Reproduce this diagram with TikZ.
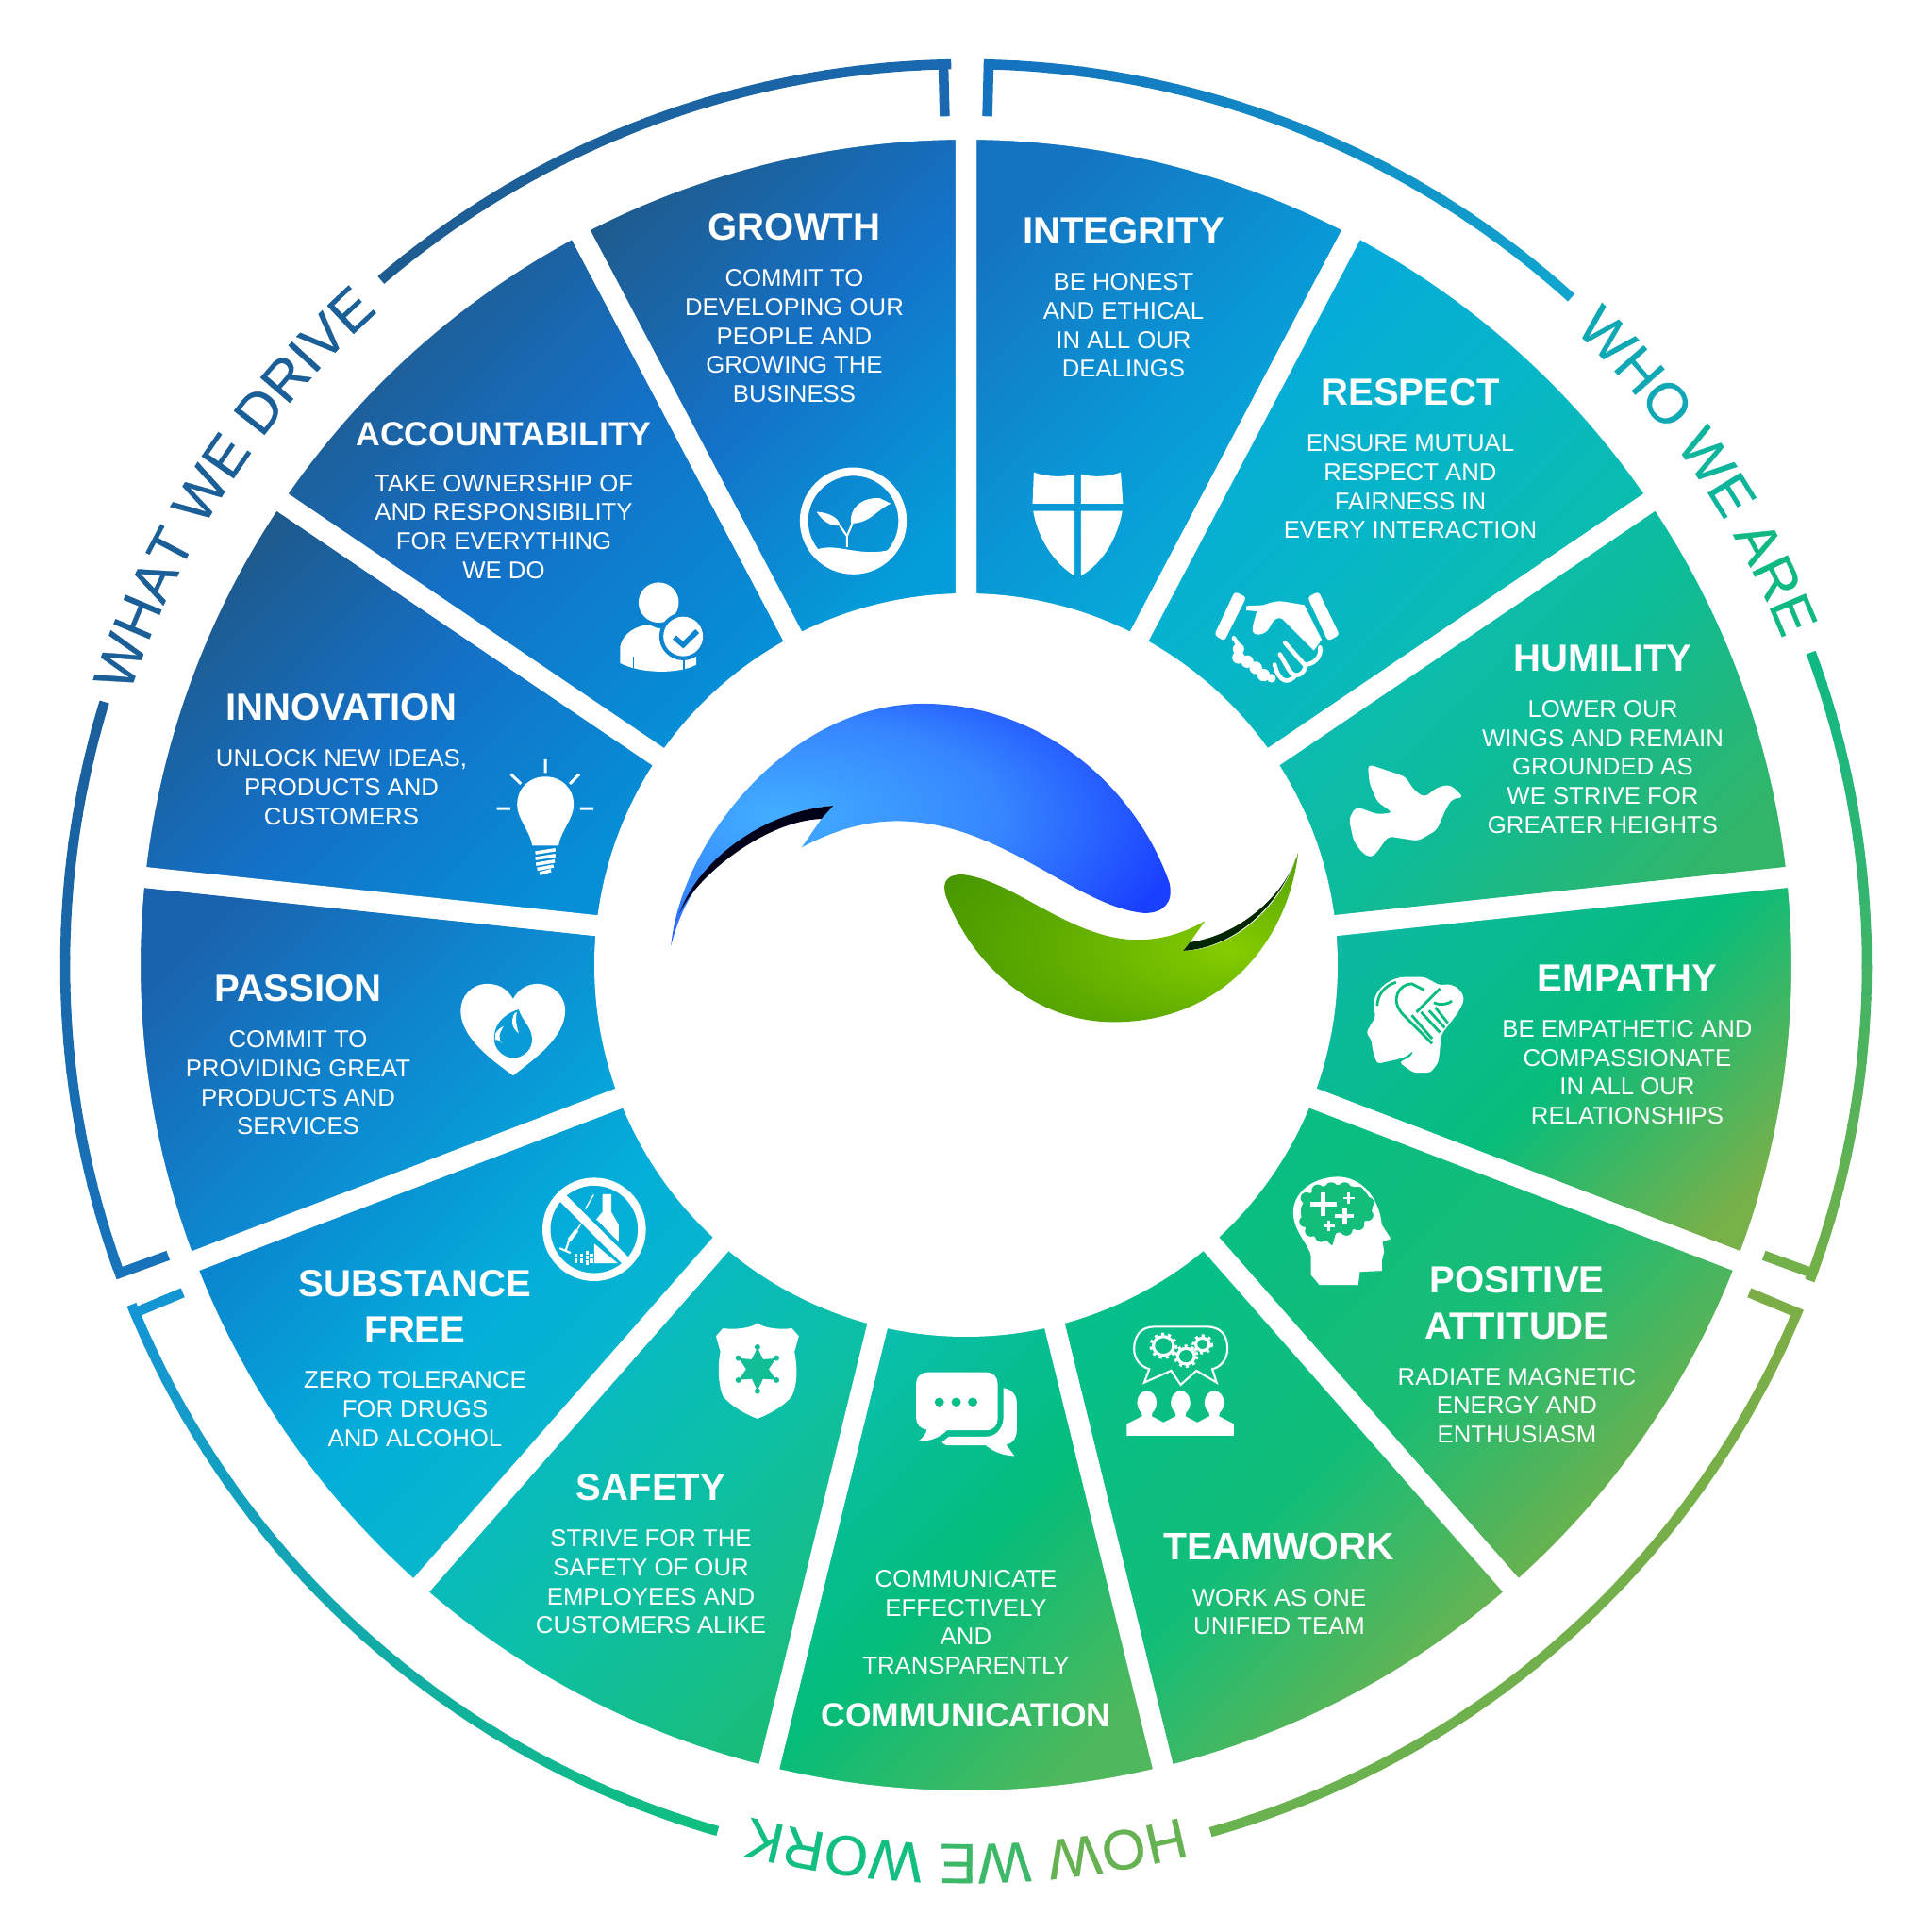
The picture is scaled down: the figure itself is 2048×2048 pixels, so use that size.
\documentclass[tikz,border=0pt]{standalone}
\usepackage{fontspec}
\setmainfont{Liberation Sans}
\newfontfamily\ringfam[FakeBold=0.5]{Liberation Sans}
\usetikzlibrary{positioning,decorations.text}

\definecolor{integrity1}{HTML}{1574C2}\definecolor{integrity2}{HTML}{0A96D6}\definecolor{integrity3}{HTML}{04B4D8}
\definecolor{respect1}{HTML}{06A6E0}\definecolor{respect2}{HTML}{07B6C8}\definecolor{respect3}{HTML}{0CBFA0}
\definecolor{humility1}{HTML}{0DBBC0}\definecolor{humility2}{HTML}{0CBC9A}\definecolor{humility3}{HTML}{32B568}
\definecolor{empathy1}{HTML}{0CB9A0}\definecolor{empathy2}{HTML}{06BD7C}\definecolor{empathy3}{HTML}{78B04A}
\definecolor{positive1}{HTML}{08BE82}\definecolor{positive2}{HTML}{1ABC74}\definecolor{positive3}{HTML}{80AE45}
\definecolor{teamwork1}{HTML}{06BF8A}\definecolor{teamwork2}{HTML}{12BD78}\definecolor{teamwork3}{HTML}{74B24C}
\definecolor{communication1}{HTML}{0ABFAE}\definecolor{communication2}{HTML}{04BD7A}\definecolor{communication3}{HTML}{50B85C}
\definecolor{safety1}{HTML}{06B2D6}\definecolor{safety2}{HTML}{0BBFAA}\definecolor{safety3}{HTML}{1ABD78}
\definecolor{substance1}{HTML}{0B80CE}\definecolor{substance2}{HTML}{04AEDA}\definecolor{substance3}{HTML}{0ABEC0}
\definecolor{passion1}{HTML}{1B62AE}\definecolor{passion2}{HTML}{0E86D0}\definecolor{passion3}{HTML}{04ACDC}
\definecolor{innovation1}{HTML}{1F5888}\definecolor{innovation2}{HTML}{1470C6}\definecolor{innovation3}{HTML}{068ED6}
\definecolor{accountability1}{HTML}{21598A}\definecolor{accountability2}{HTML}{1470C6}\definecolor{accountability3}{HTML}{068ED6}
\definecolor{growth1}{HTML}{1E5C90}\definecolor{growth2}{HTML}{1472C8}\definecolor{growth3}{HTML}{049CDA}

\definecolor{logoblueA}{HTML}{42AEFF}\definecolor{logoblueB}{HTML}{3685FF}\definecolor{logoblueC}{HTML}{1A40FF}
\definecolor{logogreenA}{HTML}{86CC00}\definecolor{logogreenB}{HTML}{5AA800}\definecolor{logogreenC}{HTML}{3A8A00}
\pgfdeclareradialshading{logoblue}{\pgfpoint{-15bp}{2bp}}{color(0bp)=(logoblueA); color(20bp)=(logoblueB); color(36bp)=(logoblueC); color(100bp)=(logoblueC)}
\pgfdeclareradialshading{logogreen}{\pgfpoint{16bp}{-4bp}}{color(0bp)=(logogreenA); color(25bp)=(logogreenB); color(50bp)=(logogreenC); color(100bp)=(logogreenC)}

% draws one coloured piece of the outer ring, fading from #3 to #4
\newcommand{\ringarc}[4]{
  \foreach \k in {0,...,19}{
    \pgfmathsetmacro{\angA}{#1+\k*(#2-#1)/20}
    \pgfmathsetmacro{\angB}{#1+(\k+1.1)*(#2-#1)/20}
    \pgfmathtruncatemacro{\pct}{\k*100/19}
    \draw[ring,color=#4!\pct!#3] (\angA:955) arc[start angle=\angA,end angle=\angB,radius=955];
  }
}
\newcommand{\ringfont}{\ringfam\fontsize{17}{18}\selectfont}

\begin{document}
\begin{tikzpicture}
  [x=0.01cm,y=0.01cm,node distance=8.3pt,
  segment/.style={top color=#11,bottom color=#13,middle color=#12,shading angle=45,draw=white,line width=6.26pt},
  head/.style={text=white,inner sep=0pt,align=center,font=\bfseries\fontsize{11.4}{13.8}\selectfont},
  smallhead/.style={head,font=\bfseries\fontsize{10.1}{12}\selectfont},
  txt/.style={text=white,inner sep=0pt,align=center,font=\fontsize{7.32}{8.73}\selectfont},
  ring/.style={line width=3pt,line cap=butt},
  ringtext/.style={decorate,decoration={text along path,text align=center,text={#1}}},
  crop/.style n args={3}{shift={(#1-1024,1023-#2)},x=#3,y=-.00333cm}]
  \useasboundingbox (-1024,-1025) rectangle (1024,1023);

  % the thirteen segments
  \foreach \seg/\angS/\angE in {integrity/90/62.2,respect/62.2/34.1,humility/34.1/6.1,empathy/6.1/-21,positive/-21/-48.7,teamwork/-48.7/-76.2,communication/-76.2/-103.8,safety/-103.8/-131.3,substance/-131.3/-159,passion/-159/-186.1,innovation/-186.1/-214.1,accountability/-214.1/-242.2,growth/-242.2/-270}{
    \path[segment=\seg] (\angS:886) arc[start angle=\angS,end angle=\angE,radius=886]
      -- (\angE:383) arc[start angle=\angE,end angle=\angS,radius=383] -- cycle;
  }

  % titles and their texts
  \node[head] (integrity) at (167,778) {INTEGRITY};
  \node[txt] (textintegrity)[below=of integrity]{BE HONEST\\AND ETHICAL\\IN ALL OUR\\DEALINGS};
  \node[head] (respect) at (471,607) {RESPECT};
  \node[txt] (textrespect)[below=of respect]{ENSURE MUTUAL\\RESPECT AND\\FAIRNESS IN\\EVERY INTERACTION};
  \node[head] (humility) at (675,325) {HUMILITY};
  \node[txt] (texthumility)[below=of humility]{LOWER OUR\\WINGS AND REMAIN\\GROUNDED AS\\WE STRIVE FOR\\GREATER HEIGHTS};
  \node[head] (empathy) at (701,-14) {EMPATHY};
  \node[txt] (textempathy)[below=of empathy]{BE EMPATHETIC AND\\COMPASSIONATE\\IN ALL OUR\\RELATIONSHIPS};
  \node[head] (positive) at (584,-358) {POSITIVE\\ATTITUDE};
  \node[txt] (textpositive)[below=of positive]{RADIATE MAGNETIC\\ENERGY AND\\ENTHUSIASM};
  \node[head,font=\bfseries\fontsize{11.6}{14}\selectfont] (teamwork) at (332,-616) {TEAMWORK};
  \node[txt] (textteamwork)[below=of teamwork]{WORK AS ONE\\UNIFIED TEAM};
  \node[smallhead] (communication) at (0,-795) {COMMUNICATION};
  \node[txt] (textcommunication)[above=of communication]{COMMUNICATE\\EFFECTIVELY\\AND\\TRANSPARENTLY};
  \node[head] (safety) at (-334,-554) {SAFETY};
  \node[txt] (textsafety)[below=of safety]{STRIVE FOR THE\\SAFETY OF OUR\\EMPLOYEES AND\\CUSTOMERS ALIKE};
  \node[head] (substance) at (-584,-362) {SUBSTANCE\\FREE};
  \node[txt] (textsubstance)[below=of substance]{ZERO TOLERANCE\\FOR DRUGS\\AND ALCOHOL};
  \node[head] (passion) at (-708,-25) {PASSION};
  \node[txt] (textpassion)[below=of passion]{COMMIT TO\\PROVIDING GREAT\\PRODUCTS AND\\SERVICES};
  \node[head] (innovation) at (-662,273) {INNOVATION};
  \node[txt] (textinnovation)[below=of innovation]{UNLOCK NEW IDEAS,\\PRODUCTS AND\\CUSTOMERS};
  \node[smallhead] (accountability) at (-490,563) {ACCOUNTABILITY};
  \node[txt] (textaccountability)[below=of accountability]{TAKE OWNERSHIP OF\\AND RESPONSIBILITY\\FOR EVERYTHING\\WE DO};
  \node[head] (growth) at (-182,782) {GROWTH};
  \node[txt] (textgrowth)[below=of growth]{COMMIT TO\\DEVELOPING OUR\\PEOPLE AND\\GROWING THE\\BUSINESS};

  % outer ring
  \definecolor{ringA}{HTML}{1472BE}\definecolor{ringB}{HTML}{10A4CE}
  \definecolor{ringC}{HTML}{10B884}\definecolor{ringD}{HTML}{72B04A}
  \definecolor{ringE}{HTML}{7CAE47}\definecolor{ringF}{HTML}{68B250}
  \definecolor{ringG}{HTML}{10BF80}\definecolor{ringH}{HTML}{1496D4}
  \definecolor{ringI}{HTML}{1873BB}\definecolor{ringJ}{HTML}{1B5F9B}
  \definecolor{ringK}{HTML}{1D5C90}\definecolor{ringL}{HTML}{1A69B0}
  \ringarc{88.86}{48}{ringA}{ringB}
  \ringarc{20.3}{-20.3}{ringC}{ringD}
  \ringarc{-22.4}{-74}{ringE}{ringF}
  \ringarc{-106}{-157.6}{ringG}{ringH}
  \ringarc{199.7}{163.2}{ringI}{ringJ}
  \ringarc{130.5}{91.14}{ringK}{ringL}
  \draw[ring,color=ringA] (88.56:960) -- (88.56:900);
  \draw[ring,color=ringD] (-20:960) -- (-20:900);
  \draw[ring,color=ringE] (-22.7:960) -- (-22.7:900);
  \draw[ring,color=ringH] (-157.3:960) -- (-157.3:900);
  \draw[ring,color=ringI] (200:960) -- (200:900);
  \draw[ring,color=ringL] (91.44:960) -- (91.44:900);

  \definecolor{whoA}{HTML}{10A8B4}\definecolor{whoB}{HTML}{0EB49C}\definecolor{whoC}{HTML}{10B884}
  \definecolor{howA}{HTML}{66B252}\definecolor{howB}{HTML}{3DB868}\definecolor{howC}{HTML}{12BE80}
  \definecolor{whatA}{HTML}{1B5F98}
  \path[ringtext={|\ringfont\color{whoA}|WHO ||%
    |\ringfont\color{whoB}|WE ||%
    |\ringfont\color{whoC}|ARE}] (52:932) arc[start angle=52,end angle=16,radius=932];
  \path[ringtext={|\ringfont\color{howA}|HOW ||%
    |\ringfont\color{howB}|WE ||%
    |\ringfont\color{howC}|WORK}] (-70:932) arc[start angle=-70,end angle=-110,radius=932];
  \path[ringtext={|\ringfont\color{whatA}|WHAT WE DRIVE}] (170:932) arc[start angle=170,end angle=124,radius=932];

  % logo
  \begin{scope}[crop={680}{720}{.00459cm}]
    \path[shading=logoblue] (68,850) .. controls (90,520) and (340,78) .. (650,78)
      .. controls (920,78) and (1140,340) .. (1218,650)
      .. controls (1228,710) and (1205,745) .. (1160,745)
      .. controls (1000,725) and (830,452) .. (590,452)
      .. controls (510,452) and (440,485) .. (370,535)
      -- (415,445) -- (442,403)
      .. controls (270,420) and (110,600) .. (68,850) -- cycle;
    \fill[black!90!blue] (442,403) .. controls (280,420) and (130,580) .. (88,745)
      .. controls (130,620) and (290,450) .. (415,445) -- cycle;
    \path[shading=logogreen] (1515,550) .. controls (1490,850) and (1330,1092) .. (1090,1092)
      .. controls (900,1092) and (760,900) .. (702,690)
      .. controls (692,645) and (705,622) .. (740,622)
      .. controls (860,640) and (990,830) .. (1145,830)
      .. controls (1205,830) and (1255,805) .. (1300,770)
      -- (1265,838) -- (1250,865)
      .. controls (1370,860) and (1480,720) .. (1515,550) -- cycle;
    \fill[black!85!green] (1265,838) .. controls (1380,815) and (1480,690) .. (1510,570)
      .. controls (1470,720) and (1370,855) .. (1250,865) -- cycle;
  \end{scope}

  % icons
  \begin{scope}[crop={1020}{460}{.00333cm},white]
    % shield
    \fill (228,122) .. controls (260,135) and (320,140) .. (358,128) -- (358,222) -- (224,222) -- cycle;
    \fill (378,128) .. controls (420,140) and (470,135) .. (505,122) -- (512,222) -- (378,222) -- cycle;
    \fill (226,245) -- (358,245) -- (358,452) .. controls (290,410) and (240,330) .. (226,245) -- cycle;
    \fill (378,245) -- (510,245) .. controls (495,330) and (450,410) .. (378,452) -- cycle;
    % handshake
    \fill[rounded corners=1pt] (868,502) -- (905,520) -- (835,660) -- (803,640) -- cycle;
    \fill[rounded corners=1pt] (1135,502) -- (1100,520) -- (1165,660) -- (1202,640) -- cycle;
    \fill (905,548) -- (960,545) .. controls (985,535) and (1010,530) .. (1030,535) -- (1090,545) -- (1145,655) -- (1120,690)
      -- (1020,590) .. controls (1000,580) and (990,595) .. (980,615)
      .. controls (965,645) and (925,645) .. (925,625) .. controls (925,600) and (935,585) .. (938,565) -- (905,562) -- cycle;
    \draw[line width=1.3pt,line cap=round] (1140,680) .. controls (1145,710) and (1120,735) .. (1090,735) -- (1028,665);
    \draw[line width=1.3pt,line cap=round] (1095,735) .. controls (1090,765) and (1060,785) .. (1040,750) -- (1012,702);
    \draw[line width=1.3pt,line cap=round] (1060,770) .. controls (1040,795) and (1010,795) .. (995,735);
    \draw[line width=1.3pt,line cap=round] (865,650) -- (885,680);
    \foreach \px/\py/\pr in {880/685/18,880/712/20,908/725/20,935/745/20,960/768/20,985/778/14}
      \fill (\px,\py) circle[radius=\pr];
  \end{scope}

  \begin{scope}[crop={620}{460}{.00333cm},white]
    % plant in a ring
    \draw[line width=2.5pt] (855,277) circle[radius=157];
    \fill (740,368) .. controls (800,345) and (880,395) .. (975,368) .. controls (930,425) and (890,445) .. (855,445) .. controls (810,445) and (770,420) .. (740,368) -- cycle;
    \fill (848,285) .. controls (840,240) and (880,200) .. (940,205) -- (975,222) .. controls (930,240) and (910,285) .. (848,285) -- cycle;
    \fill (738,248) .. controls (780,250) and (812,270) .. (812,292) .. controls (780,295) and (755,275) .. (738,248) -- cycle;
    \draw[line width=.6pt] (835,360) -- (835,325) -- (812,292) (835,325) -- (852,285);
    % person with a check mark
    \fill (235,537) circle[radius=64];
    \fill (112,730) -- (112,680) .. controls (120,630) and (170,610) .. (205,607) .. controls (235,625) and (260,625) .. (290,607)
      -- (355,660) -- (355,735) .. controls (300,765) and (180,765) .. (112,730) -- cycle;
    \fill[color=growth2!55!growth3] (313,645) circle[radius=76];
    \fill (313,645) circle[radius=63];
    \draw[color=growth2!55!growth3,line width=1.6pt] (285,648) -- (313,672) -- (358,628);
    \draw[color=growth2!55!growth3,line width=.4pt] (155,710) -- (155,752) (315,722) -- (315,752);
  \end{scope}

  \begin{scope}[crop={470}{780}{.00333cm},white]
    % bulb
    \draw[line width=.85pt] (325,75) -- (325,118) (215,122) -- (247,153) (433,122) -- (403,153) (170,232) -- (213,232) (435,232) -- (478,232);
    \fill (235,220) .. controls (235,265) and (275,300) .. (283,350) -- (367,350) .. controls (375,300) and (415,265) .. (415,220)
      .. controls (415,165) and (375,130) .. (325,130) .. controls (275,130) and (235,165) .. (235,220) -- cycle;
    \foreach \ly/\lw in {368/32,386/32,404/30,420/26,434/18}
      \draw[line width=1pt] (325-\lw,\ly+5) -- (325+\lw,\ly-5);
    % heart with a flame
    \fill (222,838) .. controls (200,800) and (170,790) .. (140,790) .. controls (90,790) and (55,830) .. (55,875)
      .. controls (55,960) and (150,1030) .. (222,1082) .. controls (290,1030) and (388,960) .. (388,875)
      .. controls (388,825) and (345,790) .. (300,790) .. controls (270,790) and (240,805) .. (222,838) -- cycle;
    \fill[color=passion2!45!passion3] (240,872) .. controls (190,885) and (150,930) .. (165,985) .. controls (180,1020) and (215,1030) .. (235,1025)
      .. controls (270,1015) and (290,985) .. (280,950) .. controls (275,925) and (250,905) .. (240,872) -- cycle;
    \fill (192,925) .. controls (180,945) and (170,965) .. (190,982) .. controls (180,970) and (160,960) .. (165,975) -- (165,950) .. controls (170,940) and (180,930) .. (192,925) -- cycle;
    \fill (226,885) .. controls (214,910) and (218,930) .. (240,948) .. controls (234,925) and (228,908) .. (234,880) -- cycle;
  \end{scope}

  \begin{scope}[crop={1380}{780}{.00333cm},white]
    % dove
    \fill[rounded corners=1.5pt] (210,90) -- (330,130) -- (355,170) -- (390,197) -- (430,165) -- (470,155) -- (495,175) -- (515,197) -- (480,200)
      -- (460,230) -- (430,300) -- (370,335) -- (275,320) -- (240,370) -- (220,390) -- (190,370) -- (165,335) -- (150,265) -- (172,225)
      -- (240,250) -- (290,245) -- (240,210) -- (215,150) -- cycle;
    % head with hands
    \fill[rounded corners=1pt] (205,945) -- (235,895) -- (228,860) .. controls (235,800) and (290,768) .. (340,768) -- (390,768) -- (440,795)
      .. controls (490,785) and (520,820) .. (512,855) -- (495,885) -- (445,950) -- (435,1040) -- (410,1073) -- (355,1073) -- (310,1040)
      -- (350,1020) -- (355,1000) .. controls (330,1030) and (280,1035) .. (240,1045) -- (225,1000) -- (222,970) -- cycle;
    \draw[color=empathy2,line width=.8pt] (240,860) .. controls (240,825) and (265,795) .. (300,785);
    \draw[color=empathy2,line width=.8pt] (415,980) -- (320,885) .. controls (280,840) and (310,790) .. (350,790) -- (390,810);
    \draw[color=empathy2,line width=.8pt] (365,880) -- (440,805) (420,850) .. controls (440,860) and (465,855) .. (478,845);
    \draw[color=empathy2,line width=.8pt] (350,890) -- (415,965) (380,880) -- (440,945) (405,875) -- (455,930) (425,865) -- (465,915);
  \end{scope}

  \begin{scope}[crop={920}{1220}{.00357cm},white]
    % head with brain
    \fill (1315,395) -- (1340,427) -- (1455,427) -- (1460,385) -- (1525,382) -- (1525,350) -- (1532,320) -- (1527,290) -- (1552,280) -- (1525,235)
      .. controls (1520,170) and (1480,85) .. (1395,82) .. controls (1310,85) and (1260,140) .. (1262,200) .. controls (1265,260) and (1310,300) .. (1315,335) -- cycle;
    \fill[color=positive1!40!positive2] plot[smooth cycle] coordinates {(1290,170) (1330,120) (1400,108) (1470,125) (1498,180) (1470,230) (1420,260) (1390,262) (1378,300) (1360,285) (1320,270) (1295,235) (1285,200)};
    \foreach \lx/\ly in {1302/150,1335/125,1375/118,1415/118,1455/132,1484/165,1482/205,1455/235,1420/252,1345/272,1315/255,1298/225}
      \fill[color=positive1!40!positive2] (\lx,\ly) circle[radius=18];
    \draw[line width=1.4pt] (1352,132) -- (1352,208) (1314,170) -- (1390,170);
    \draw[line width=.75pt] (1427,133) -- (1427,167) (1410,150) -- (1444,150);
    \draw[line width=1.2pt] (1415,179) -- (1415,235) (1387,207) -- (1443,207);
    \draw[line width=.75pt] (1368,221) -- (1368,255) (1351,238) -- (1385,238);
    % bubble with gears
    \draw[line width=.6pt] (850,560) -- (1005,560) .. controls (1050,560) and (1067,590) .. (1067,630) .. controls (1067,665) and (1045,690) .. (1022,695)
      -- (1035,738) -- (975,700) -- (928,745) -- (900,700) -- (820,738) -- (835,695) .. controls (805,685) and (790,660) .. (790,630)
      .. controls (790,590) and (810,560) .. (850,560) -- cycle;
    \foreach \gx/\gy/\gr in {877/621/30,944/654/25,993/616/20}{
      \draw[line width=.9pt] (\gx,\gy) circle[radius=\gr];
      \draw[line width=.8pt,dash pattern=on .9pt off 1.2pt] (\gx,\gy) circle[radius=\gr+8];
    }
    % three people
    \foreach \bx in {828,928,1028}{
      \fill (\bx,802) ellipse[x radius=29,y radius=38];
      \fill (\bx-18,825) -- (\bx+18,825) -- (\bx+14,845) -- (\bx+58,870) -- (\bx+58,907) -- (\bx-60,907) -- (\bx-60,870) -- (\bx-14,845) -- cycle;
    }
    % speech bubbles
    \fill (402,755) .. controls (430,760) and (442,780) .. (442,805) -- (442,890) .. controls (440,920) and (425,935) .. (410,935) -- (435,972)
      .. controls (395,970) and (370,955) .. (350,938) -- (240,938) .. controls (230,938) and (222,932) .. (220,928) -- (240,910) -- (350,910)
      .. controls (390,910) and (402,870) .. (402,850) -- cycle;
    \fill (180,705) -- (350,705) .. controls (372,705) and (385,720) .. (385,740) -- (385,855) .. controls (385,875) and (372,890) .. (350,890)
      -- (235,890) .. controls (215,910) and (190,925) .. (150,925) .. controls (165,912) and (172,900) .. (175,888) .. controls (155,885) and (143,870) .. (143,850)
      -- (143,740) .. controls (143,720) and (158,705) .. (180,705) -- cycle;
    \foreach \dx in {212,262,311}
      \fill[color=communication2!70!communication1] (\dx,800) circle[radius=14];
  \end{scope}

  \begin{scope}[crop={540}{1220}{.00333cm},white]
    % no drugs or alcohol
    \draw[line width=2.4pt] (270,250) circle[radius=152];
    \draw[line width=2.7pt] (170,150) -- (370,350);
    \fill (296,138) -- (325,138) -- (325,195) -- (348,235) -- (348,290) -- (277,218) -- (296,195) -- cycle;
    \fill (270,295) -- (270,358) -- (345,358) -- cycle;
    \draw[line width=1.2pt] (190,285) -- (215,252);
    \draw[line width=.4pt] (242,185) -- (268,140) (215,252) -- (228,232);
    \draw[line width=.6pt] (160,310) -- (195,325) (190,285) -- (180,315);
    \foreach \sx/\sy in {206/328,206/344,224/328,224/344,242/318,242/334,242/350,256/328,256/344}
      \fill (\sx,\sy) rectangle (\sx+11,\sy+13);
    % police shield
    \fill (790,548) .. controls (770,565) and (720,570) .. (680,565) -- (658,590) -- (672,640) .. controls (660,700) and (670,760) .. (680,780)
      .. controls (700,810) and (755,840) .. (790,853) .. controls (825,840) and (880,810) .. (900,780) .. controls (915,750) and (920,700) .. (908,640)
      -- (922,590) -- (900,565) .. controls (860,570) and (810,565) .. (790,548) -- cycle;
    \begin{scope}[shift={(790,695)}]
      \fill[color=safety2!60!safety3] (90:68) -- (60:36) -- (30:68) -- (0:36) -- (-30:68) -- (-60:36) -- (-90:68) -- (-120:36) -- (-150:68) -- (180:36) -- (150:68) -- (120:36) -- cycle;
      \foreach \t in {90,30,-30,-90,-150,150}
        \fill[color=safety2!60!safety3] (\t:70) circle[radius=9];
    \end{scope}
  \end{scope}
\end{tikzpicture}
\end{document}
